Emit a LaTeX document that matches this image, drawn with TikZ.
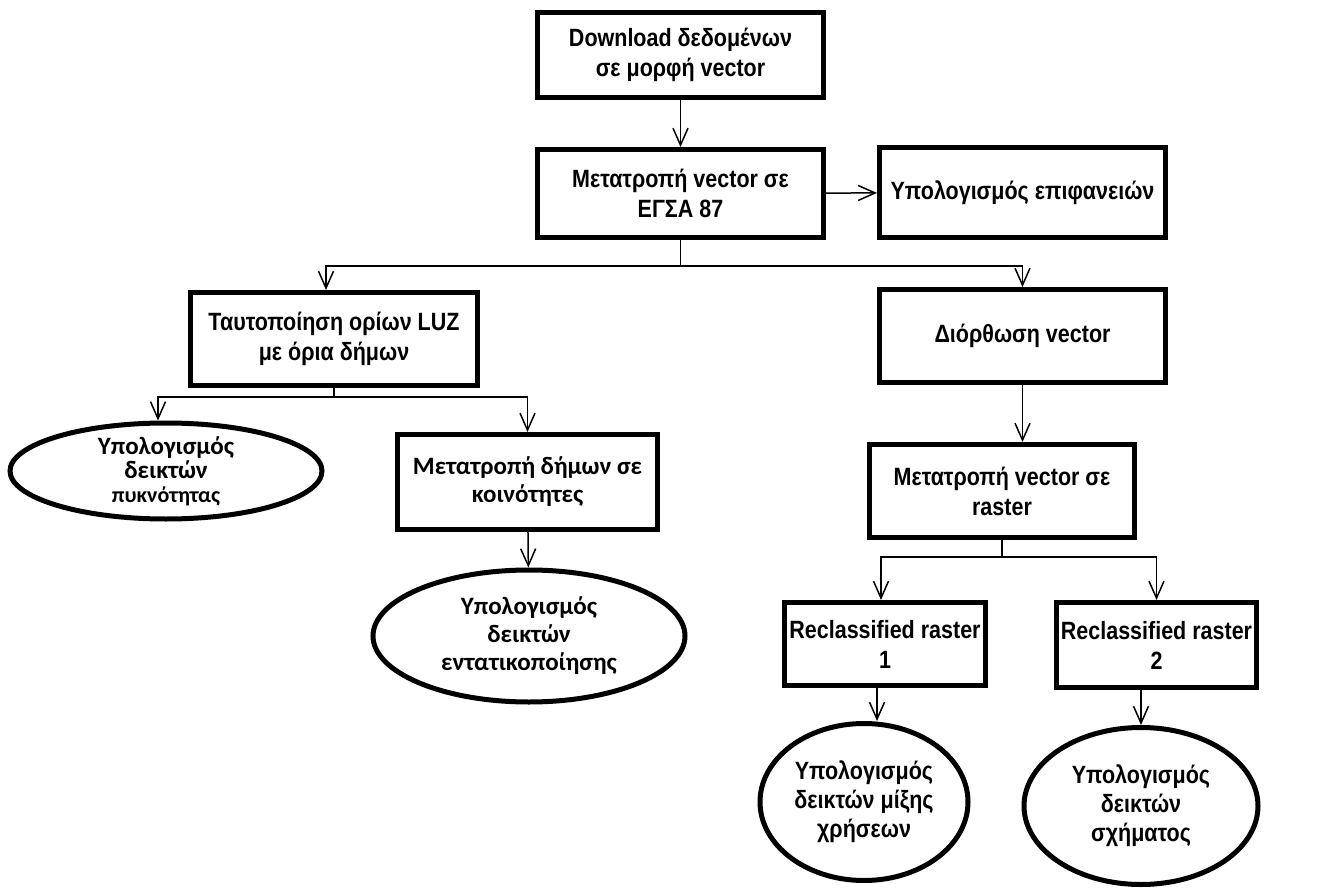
\documentclass[tikz,border=0pt]{standalone}
\usepackage{fontspec}
\setmainfont{Liberation Sans}[FakeStretch=0.86]
\newfontfamily\calfont{Carlito}
\usetikzlibrary{arrows.meta,shapes.geometric}

\tikzset{
  box/.style={draw, line width=2.5pt, align=center, inner sep=2pt,
    font=\bfseries\fontsize{12.5}{15}\selectfont},
  oval/.style={ellipse, draw, line width=2.5pt, align=center, inner sep=0pt,
    font=\bfseries\fontsize{12.5}{14.5}\selectfont},
  link/.style={line width=0.75pt, -{Straight Barb[length=8.5pt,width=7.5pt]}},
  wire/.style={line width=0.75pt}
}

\begin{document}
\begin{tikzpicture}[x=0.5pt,y=-0.5pt]
\useasboundingbox (0,0) rectangle (1329,888);

% Top of the chain
\node[box, minimum width=143pt, minimum height=42.5pt] (download) at (680.5,55) {Download δεδομένων\\σε μορφή vector};
\node[box, minimum width=143pt, minimum height=44pt] (convert) at (680.5,193.5) {Μετατροπή vector σε\\ΕΓΣΑ 87};
\node[box, minimum width=143pt, minimum height=45pt] (areas) at (1022.5,192.5) {Υπολογισμός επιφανειών};

% Left branch
\node[box, minimum width=143.5pt, minimum height=46.5pt] (luz) at (334,339) {Ταυτοποίηση ορίων LUZ\\με όρια δήμων};
\node[oval, font=\calfont\bfseries\fontsize{12.5}{12}\selectfont, inner ysep=-8pt, minimum width=156pt, minimum height=48pt] (density) at (166,471) {Υπολογισμός\\δεικτών\\{\fontsize{11}{12}\selectfont πυκνότητας}};
\node[box, font=\calfont\bfseries\fontsize{12.5}{14}\selectfont, minimum width=130pt, minimum height=47.5pt] (communes) at (527.5,482) {Μετατροπή δήμων σε\\κοινότητες};
\node[oval, font=\calfont\bfseries\fontsize{12.5}{14}\selectfont, minimum width=156pt, minimum height=66pt] (intens) at (529,636) {Υπολογισμός\\δεικτών\\εντατικοποίησης};

% Right branch
\node[box, minimum width=143pt, minimum height=46.5pt] (fix) at (1022.5,336) {Διόρθωση vector};
\node[box, minimum width=132.5pt, minimum height=46.5pt] (raster) at (1002,491) {Μετατροπή vector σε\\raster};
\node[box, minimum width=100.5pt, minimum height=41.5pt] (recl1) at (885,644) {Reclassified raster\\1};
\node[box, minimum width=98pt, minimum height=42.5pt] (recl2) at (1156.5,645) {Reclassified raster\\2};
\node[oval, minimum width=104pt, minimum height=78.5pt] (mix) at (864,802) {Υπολογισμός\\δεικτών μίξης\\χρήσεων};
\node[oval, minimum width=117pt, minimum height=78.5pt] (shape) at (1141,806) {Υπολογισμός\\δεικτών\\σχήματος};

% Connectors
\draw[link] (download) -- (convert);
\draw[link] (convert) -- (areas);
\draw[wire] (convert.south) -- ++(0,26) coordinate (split1);
\draw[link] (split1) -| ([xshift=-4pt]luz.north);
\draw[link] (split1) -| (fix.north);
\draw[wire] (luz.south) -- ++(0,9) coordinate (split2);
\draw[link] (split2) -| ([xshift=-4pt]density.north);
\draw[link] (split2) -| (communes.north);
\draw[link] (communes) -- (intens);
\draw[link] (fix.south) -- (fix.south |- raster.north);
\draw[wire] (raster.south) -- ++(0,17) coordinate (split3);
\draw[link] (split3) -| ([xshift=-2pt]recl1.north);
\draw[link] (split3) -| (recl2.north);
\draw[link] ([xshift=-4pt]recl1.south) -- ([xshift=-4pt]recl1.south |- mix.north);
\draw[link] (shape.north |- recl2.south) -- (shape.north);

\end{tikzpicture}
\end{document}
